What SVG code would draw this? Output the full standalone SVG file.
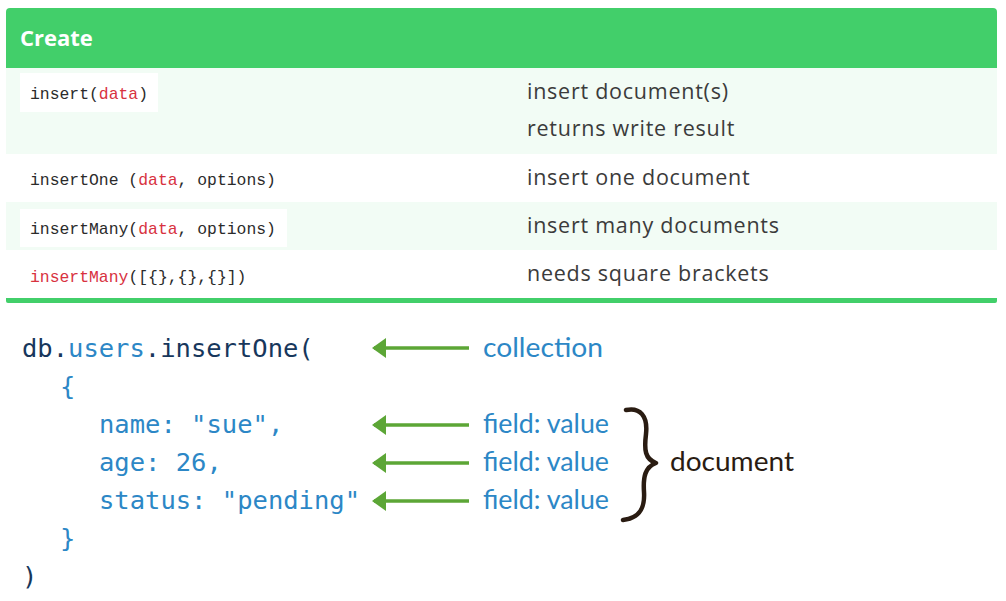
<svg xmlns="http://www.w3.org/2000/svg" width="1006" height="601" viewBox="0 0 1006 601">
<defs>
<style>
.hdr{font-family:"Open Sans","Liberation Sans",sans-serif;font-weight:700;font-size:22px;fill:#ffffff}
.desc{font-family:"Open Sans","Liberation Sans",sans-serif;font-size:21.5px;letter-spacing:0.75px;fill:#3b3b3b}
.tc{font-family:"Liberation Mono","DejaVu Sans Mono",monospace;font-size:16.4px;fill:#2b2b2b}
.red{fill:#d8323f}
.code{font-family:"DejaVu Sans Mono","Liberation Mono",monospace;font-size:25.5px;fill:#2c87c6}
.navy{fill:#17375c}
.lbl{font-family:Lato,"Open Sans",sans-serif;font-size:27px;fill:#2c87c6}
.doc{font-family:Lato,"Open Sans",sans-serif;font-size:27px;fill:#2a1c12}
.arr{stroke:#5ca636;stroke-width:3.5;fill:none}
</style>
<marker id="ah" viewBox="0 0 14 20" refX="12" refY="10" markerWidth="14" markerHeight="20" markerUnits="userSpaceOnUse" orient="auto">
<path d="M0,0 L14,10 L0,20 Z" fill="#5ca636"/>
</marker>
</defs>
<rect width="1006" height="601" fill="#ffffff"/>
<g id="table">
<path d="M6,68 V12 Q6,8 10,8 H993 Q997,8 997,12 V68 Z" fill="#42cf6a"/>
<text class="hdr" x="20" y="46">Create</text>
<rect x="6" y="68" width="991" height="86" fill="#f2fcf5"/>
<rect x="6" y="154" width="991" height="48" fill="#ffffff"/>
<rect x="6" y="202" width="991" height="48" fill="#f2fcf5"/>
<rect x="6" y="250" width="991" height="48" fill="#ffffff"/>
<path d="M6,298 H997 V301 Q997,303 995,303 H8 Q6,303 6,301 Z" fill="#42cf6a"/>
</g>
<g id="row-insert">
<rect x="20" y="73" width="138" height="39" fill="#ffffff"/>
<text class="tc" x="30" y="99">insert(<tspan class="red">data</tspan>)</text>
<text class="desc" x="527" y="99">insert document(s)</text>
<text class="desc" x="527" y="136">returns write result</text>
</g>
<g id="row-insertOne">
<text class="tc" x="30" y="185">insertOne (<tspan class="red">data</tspan>, options)</text>
<text class="desc" x="527" y="185">insert one document</text>
</g>
<g id="row-insertMany">
<rect x="20" y="209" width="267" height="38" fill="#ffffff"/>
<text class="tc" x="30" y="234">insertMany(<tspan class="red">data</tspan>, options)</text>
<text class="desc" x="527" y="233">insert many documents</text>
</g>
<g id="row-insertMany-brackets">
<text class="tc" x="30" y="282"><tspan class="red">insertMany</tspan>([{},{},{}])</text>
<text class="desc" x="527" y="281">needs square brackets</text>
</g>
<g id="code">
<text class="code" x="22" y="357"><tspan class="navy">db.</tspan>users<tspan class="navy">.insertOne(</tspan></text>
<text class="code" x="60" y="395">{</text>
<text class="code" x="99" y="433">name: "sue",</text>
<text class="code" x="99" y="471">age: 26,</text>
<text class="code" x="99" y="509">status: "pending"</text>
<text class="code" x="60" y="547">}</text>
<text class="code navy" x="22" y="585">)</text>
</g>
<g id="connectors">
<line class="arr" x1="469" y1="348" x2="374" y2="348" marker-end="url(#ah)"/>
<line class="arr" x1="469" y1="425" x2="374" y2="425" marker-end="url(#ah)"/>
<line class="arr" x1="469" y1="463" x2="374" y2="463" marker-end="url(#ah)"/>
<line class="arr" x1="469" y1="501" x2="374" y2="501" marker-end="url(#ah)"/>
</g>
<g id="label-collection">
<text class="lbl" x="483" y="357" textLength="120" lengthAdjust="spacingAndGlyphs">collection</text>
</g>
<g id="label-field1">
<text class="lbl" x="483" y="433" textLength="126" lengthAdjust="spacingAndGlyphs">field: value</text>
</g>
<g id="label-field2">
<text class="lbl" x="483" y="471" textLength="126" lengthAdjust="spacingAndGlyphs">field: value</text>
</g>
<g id="label-field3">
<text class="lbl" x="483" y="509" textLength="126" lengthAdjust="spacingAndGlyphs">field: value</text>
</g>
<g id="document">
<path d="M626,410 C640,407 648,416 646,434 C644,450 645,459 656,463 C645,467 643,477 644,492 C645,508 640,518 623,520" fill="none" stroke="#2a1c12" stroke-width="4.5" stroke-linecap="round" stroke-linejoin="round"/>
<text class="doc" x="670" y="471" textLength="124" lengthAdjust="spacingAndGlyphs">document</text>
</g>
</svg>
